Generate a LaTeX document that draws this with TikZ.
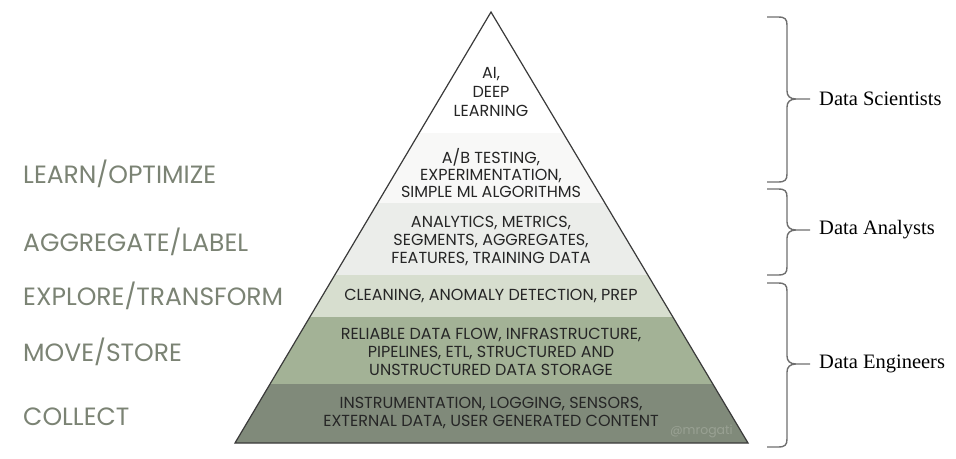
\documentclass[tikz,border=0pt]{standalone}
\usepackage{fontspec}
\setmainfont{Liberation Serif}
\newfontfamily\pyrfont{Poppins}
\usetikzlibrary{calc}

\definecolor{tierAB}{HTML}{F8F8F7}
\definecolor{tierAN}{HTML}{EBEDEA}
\definecolor{tierCL}{HTML}{D7DECF}
\definecolor{tierRE}{HTML}{A3B296}
\definecolor{tierIN}{HTML}{808A7A}
\definecolor{stagegray}{HTML}{7B8374}
\definecolor{bracegray}{HTML}{6E6E6E}
\definecolor{outline}{HTML}{3A3A3A}
\definecolor{marksgray}{HTML}{99A193}

\tikzset{
	tier/.style={font=\pyrfont\fontsize{16}{18}\selectfont, align=center, text=black!85, inner sep=0pt},
	stage/.style={font=\pyrfont\fontsize{25}{25}\selectfont, text=stagegray, anchor=base west, inner sep=0pt},
	role/.style={font=\fontsize{20.5}{20.5}\selectfont, anchor=west, inner sep=0pt},
	brace/.style={draw=bracegray, line width=1.4pt},
}

\begin{document}
\begin{tikzpicture}[x=1pt, y=-1pt]
	\useasboundingbox (0, 0) rectangle (956, 458);

	\coordinate (A) at (491, 12);
	\coordinate (BL) at (235, 443);
	\coordinate (BR) at (748, 443);

	\begin{scope}
		\clip (A) -- (BL) -- (BR) -- cycle;
		\fill [color=white] (200, 0) rectangle (800, 133);
		\fill [color=tierAB] (200, 133) rectangle (800, 203);
		\fill [color=tierAN] (200, 203) rectangle (800, 275);
		\fill [color=tierCL] (200, 275) rectangle (800, 317);
		\fill [color=tierRE] (200, 317) rectangle (800, 384);
		\fill [color=tierIN] (200, 384) rectangle (800, 450);
	\end{scope}

	\draw [color=outline, line width=1.2pt, line join=miter] (A) -- (BL) -- (BR) -- cycle;

	% pyramid tiers
	\node[tier, font=\pyrfont\fontsize{16}{19}\selectfont] (ai) at (491, 92) {AI,\\DEEP\\LEARNING};
	\node[tier, font=\pyrfont\fontsize{16}{17}\selectfont] (ab) at (491, 173) {A/B TESTING,\\EXPERIMENTATION,\\SIMPLE ML ALGORITHMS};
	\node[tier] (analytics) at (491, 241) {ANALYTICS, METRICS,\\SEGMENTS, AGGREGATES,\\FEATURES, TRAINING DATA};
	\node[tier] (cleaning) at (491, 296) {CLEANING, ANOMALY DETECTION, PREP};
	\node[tier] (flow) at (491, 352) {RELIABLE DATA FLOW, INFRASTRUCTURE,\\PIPELINES, ETL, STRUCTURED AND\\UNSTRUCTURED DATA STORAGE};
	\node[tier] (instr) at (491, 413) {INSTRUMENTATION, LOGGING, SENSORS,\\EXTERNAL DATA, USER GENERATED CONTENT};
	\node[font=\pyrfont\fontsize{12.5}{12.5}\selectfont, text=marksgray, anchor=east, inner sep=0pt] (mark) at (733, 431) {@mrogati};

	% stages on the left
	\node[stage] (learn) at (23, 183) {LEARN/OPTIMIZE};
	\node[stage] (aggregate) at (23, 251) {AGGREGATE/LABEL};
	\node[stage] (explore) at (23, 305) {EXPLORE/TRANSFORM};
	\node[stage] (move) at (23, 361) {MOVE/STORE};
	\node[stage] (collect) at (23, 425) {COLLECT};

	% roles on the right
	\node[role] (scientists) at (819, 99) {Data Scientists};
	\node[role] (analysts) at (819, 230) {Data Analysts};
	\node[role] (engineers) at (819, 364) {Data Engineers};

	\foreach \t/\b/\m in {17/182/99, 189/275/230, 283/447/364} {
		\draw[brace] (767, \t) -- (778, \t) .. controls (785, \t) and (787, \t+2) .. (787, \t+8)
			-- (787, \m-8) .. controls (787, \m-3) and (790, \m) .. (796, \m) -- (810, \m)
			-- (796, \m) .. controls (790, \m) and (787, \m+3) .. (787, \m+8)
			-- (787, \b-8) .. controls (787, \b-2) and (785, \b) .. (778, \b) -- (767, \b);
	}

\end{tikzpicture}
\end{document}
